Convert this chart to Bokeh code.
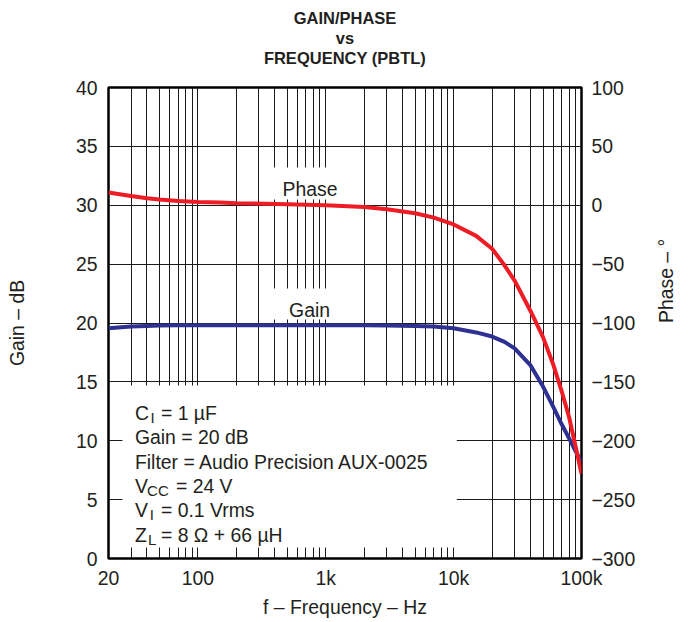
import math
from bokeh.plotting import figure
from bokeh.models import (Range1d, LinearAxis, FixedTicker, Label, BoxAnnotation,
                          LinearScale, Title)
from bokeh.embed import file_html
from bokeh.resources import INLINE

# ---------------- data ----------------
freq_hz = [20, 30, 40, 50, 70, 100, 150, 200, 500, 1000, 2000, 3000, 5000, 7000,
           10000, 15000, 20000, 25000, 30000, 40000, 50000, 60000, 70000, 80000,
           90000, 100000]
gain_db = [19.55, 19.7, 19.75, 19.78, 19.8, 19.8, 19.8, 19.8, 19.8, 19.8, 19.8,
           19.78, 19.75, 19.7, 19.55, 19.2, 18.85, 18.4, 17.85, 16.4, 14.6, 12.9,
           11.4, 10.2, 9.1, 8.2]
phase_deg = [10.8, 7.9, 6.0, 4.8, 3.6, 2.8, 2.3, 1.8, 0.8, 0.0, -1.4, -3.4, -6.8,
             -10.5, -16.3, -26, -37, -51, -64, -90, -112, -135, -158, -180, -205,
             -228]

x_tick_values = [20, 100, 1000, 10000, 100000]
x_tick_labels = ["20", "100", "1k", "10k", "100k"]
gain_ticks = [0, 5, 10, 15, 20, 25, 30, 35, 40]
phase_ticks = [-300, -250, -200, -150, -100, -50, 0, 50, 100]
phase_tick_labels = ["\u2212300", "\u2212250", "\u2212200", "\u2212150", "\u2212100",
                     "\u221250", "0", "50", "100"]
x_grid_values = [m * 10 ** d for d in range(1, 5) for m in range(1, 10)
                 if 20 < m * 10 ** d < 100000]
gain_grid_values = [5, 10, 15, 20, 25, 30, 35]

title_lines = ["GAIN/PHASE", "vs", "FREQUENCY (PBTL)"]
x_label = "f \u2013 Frequency \u2013 Hz"
gain_label = "Gain \u2013 dB"
phase_label = "Phase \u2013 \u00b0"

FONT = "Liberation Sans"
TXT = "#231f20"
FS = "19.4px"

p = figure(width=691, height=620, x_axis_type="log",
           x_range=Range1d(20, 100000), y_range=Range1d(0, 40),
           output_backend="svg", toolbar_location=None,
           min_border_left=108, min_border_top=87, min_border_right=109,
           min_border_bottom=62,
           background_fill_color="white", border_fill_color="white",
           outline_line_color="black", outline_line_width=2.5)
p.title = None

p.extra_y_ranges = {"phase": Range1d(-300, 100), "py": Range1d(0, 471)}
p.extra_x_ranges = {"px": Range1d(0, 474)}
p.extra_x_scales = {"px": LinearScale()}

# title lines, stacked outward from the frame (first = nearest the frame)
p.add_layout(Title(text="\u00a0", text_font=FONT, text_font_size="16.6px",
                   standoff=0), "above")
for t in reversed(title_lines):
    p.add_layout(Title(text=t, align="center", text_font=FONT,
                       text_font_size="16.5px", text_font_style="bold",
                       text_color=TXT, standoff=0), "above")

# axes
xax = p.xaxis[0]
xax.ticker = FixedTicker(ticks=x_tick_values, minor_ticks=[])
xax.major_label_overrides = dict(zip(x_tick_values, x_tick_labels))
xax.axis_label = x_label
xax.axis_label_standoff = 4
xax.major_label_standoff = 2

yax = p.yaxis[0]
yax.ticker = FixedTicker(ticks=gain_ticks, minor_ticks=[])
yax.axis_label = gain_label
yax.axis_label_standoff = 45
yax.major_label_standoff = 5

rax = LinearAxis(y_range_name="phase",
                 ticker=FixedTicker(ticks=phase_ticks, minor_ticks=[]),
                 major_label_overrides=dict(zip(phase_ticks, phase_tick_labels)),
                 axis_label=phase_label)
rax.axis_label_standoff = 28
rax.major_label_standoff = 4
rax.axis_label_orientation = math.pi / 2
p.add_layout(rax, "right")

for ax in (xax, yax, rax):
    ax.axis_line_color = None
    ax.major_tick_line_color = None
    ax.minor_tick_line_color = None
    ax.major_label_text_font = FONT
    ax.major_label_text_font_size = FS
    ax.major_label_text_color = TXT
    ax.axis_label_text_font = FONT
    ax.axis_label_text_font_size = FS
    ax.axis_label_text_font_style = "normal"
    ax.axis_label_text_color = TXT

# grids
p.xgrid.ticker = FixedTicker(ticks=x_grid_values)
p.xgrid.grid_line_color = "#1a1a1a"
p.xgrid.grid_line_width = 1
p.ygrid.ticker = FixedTicker(ticks=gain_grid_values)
p.ygrid.grid_line_color = "#1a1a1a"
p.ygrid.grid_line_width = 1

# white boxes behind the text blocks
for l, r, b, t in [(14, 349, 11, 173), (158, 246, 359, 391), (158, 246, 239, 270)]:
    p.add_layout(BoxAnnotation(left=l, right=r, bottom=b, top=t,
                               x_range_name="px", y_range_name="py",
                               fill_color="white", fill_alpha=1.0,
                               line_color=None, level="glyph"))

# curves
p.line(freq_hz, gain_db, line_color="#2e3192", line_width=4)
p.line(freq_hz, phase_deg, line_color="#ee1c25", line_width=4,
       y_range_name="phase")


def lab(x, y, text, size=FS, align="left", style="normal", font=FONT):
    p.add_layout(Label(x=x, y=y, text=text, x_range_name="px", y_range_name="py",
                       text_font=font, text_font_size=size, text_color=TXT,
                       text_align=align, text_baseline="alphabetic",
                       text_font_style=style))


# curve names
lab(202, 370, "Phase", align="center")
lab(201.5, 249, "Gain", align="center")

# conditions block
SUB = "15px"
lab(26.5, 146, "C")
lab(42, 141.3, "I", size=SUB)
lab(52.6, 146, "= 1 \u00b5F")
lab(26.5, 122, "Gain = 20 dB")
lab(26.5, 97, "Filter = Audio Precision AUX-0025")
lab(26.5, 73, "V")
lab(38.7, 68, "CC", size=SUB)
lab(67.6, 73, "= 24 V")
lab(26.5, 49, "V")
lab(41.3, 44, "I", size=SUB)
lab(52.6, 49, "= 0.1 Vrms")
lab(26.5, 24, "Z")
lab(39.7, 19, "L", size=SUB)
lab(52.6, 24, "= 8 \u03a9 + 66 \u00b5H")

open("out.html", "w").write(file_html(p, INLINE))
